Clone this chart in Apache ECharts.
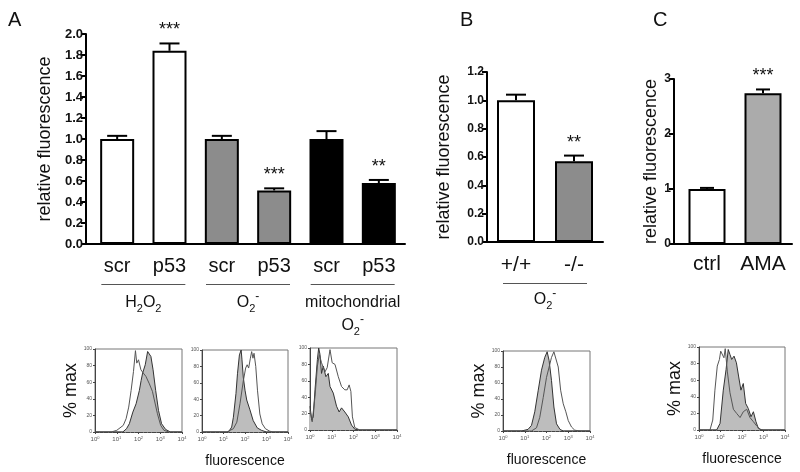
<!DOCTYPE html>
<html><head><meta charset="utf-8">
<script src="https://cdn.jsdelivr.net/npm/echarts@6/dist/echarts.min.js"></script>
<style>html,body{margin:0;padding:0;background:#fff}#c{width:800px;height:472px}</style>
</head><body><div id="c"></div>
<script>
const FONT = '"Liberation Sans", Arial, Helvetica, sans-serif';

// ---------- Panel A (bars) ----------
const aCategories = ['scr', 'p53', 'scr', 'p53', 'scr', 'p53'];
const aValues = [1.00, 1.84, 1.00, 0.51, 1.00, 0.58];
const aErrors = [0.03, 0.07, 0.03, 0.02, 0.075, 0.03];
const aSig = ['', '***', '', '***', '', '**'];
const aGroups = ['H₂O₂', 'O₂⁻', 'mitochondrial\nO₂⁻'];
const aYTicks = [0, 2, 0.2];

// ---------- Panel B (bars) ----------
const bCategories = ['+/+', '-/-'];
const bValues = [1.00, 0.57];
const bErrors = [0.04, 0.04];
const bSig = ['', '**'];
const bGroups = ['O₂⁻'];
const bYTicks = [0, 1.2, 0.2];

// ---------- Panel C (bars) ----------
const cCategories = ['ctrl', 'AMA'];
const cValues = [1.00, 2.74];
const cErrors = [0.02, 0.07];
const cSig = ['', '***'];
const cYTicks = [0, 3, 1];

// ---------- Flow histograms: [log10 fluorescence, % max] ----------
const hA1Filled = [[0,0],[1.28,0],[1.45,4],[1.58,10],[1.74,24],[1.89,34],[2.04,50],[2.12,62],[2.19,71],[2.31,81],[2.42,97],[2.49,99],[2.57,91],[2.67,75],[2.79,50],[2.92,26],[3.06,10],[3.25,3],[3.47,0],[4,0]];
const hA1Open = [[0,0],[0.75,0],[1.0,2],[1.3,8],[1.43,16],[1.55,30],[1.66,50],[1.77,73],[1.86,98],[1.92,83],[2.0,87],[2.11,75],[2.22,71],[2.34,67],[2.5,58],[2.64,49],[2.87,22],[3.02,8],[3.17,2],[3.4,0],[4,0]];
const hA2Filled = [[0,0],[1.23,0],[1.38,6],[1.46,18],[1.58,47],[1.65,71],[1.74,94],[1.82,100],[1.86,88],[1.92,67],[2.0,51],[2.08,39],[2.15,39],[2.23,27],[2.38,14],[2.57,5],[2.77,2],[3.0,0],[4,0]];
const hA2Open = [[0,0],[1.15,0],[1.46,4],[1.62,12],[1.77,35],[1.92,62],[2.03,78],[2.1,82],[2.17,78],[2.25,90],[2.31,98],[2.37,90],[2.42,96],[2.5,80],[2.58,51],[2.69,22],[2.8,10],[2.95,4],[3.15,1],[3.3,0],[4,0]];
const hA3Filled = [[0,29],[0.08,12],[0.15,16],[0.23,49],[0.34,86],[0.4,100],[0.46,92],[0.53,69],[0.61,78],[0.73,65],[0.84,69],[0.92,53],[1.07,45],[1.22,29],[1.34,22],[1.45,27],[1.6,22],[1.76,16],[1.91,6],[2.06,1],[2.29,0],[4,0]];
const hA3Open = [[0,24],[0.1,10],[0.23,41],[0.34,78],[0.43,92],[0.53,82],[0.69,71],[0.79,76],[0.92,98],[1.02,82],[1.15,80],[1.3,65],[1.45,53],[1.6,49],[1.71,49],[1.8,55],[1.88,47],[1.95,16],[2.06,3],[2.29,0],[4,0]];
const hBFilled = [[0,0],[0.85,0],[1.15,2],[1.31,7],[1.46,24],[1.62,51],[1.77,76],[1.92,92],[2.03,99],[2.12,88],[2.23,63],[2.34,30],[2.46,9],[2.62,2],[2.77,0],[4,0]];
const hBOpen = [[0,0],[1.31,0],[1.54,4],[1.69,17],[1.85,42],[2.0,67],[2.12,80],[2.23,92],[2.34,99],[2.43,100],[2.54,80],[2.65,51],[2.77,34],[2.89,24],[3.0,13],[3.15,5],[3.3,1],[3.54,0],[4,0]];
const hCFilled = [[0,0],[0.82,0],[0.98,8],[1.13,48],[1.26,73],[1.36,97],[1.44,91],[1.52,85],[1.63,89],[1.74,81],[1.84,65],[1.95,48],[2.06,56],[2.17,32],[2.29,26],[2.42,16],[2.53,22],[2.65,10],[2.76,2],[2.91,0],[4,0]];
const hCOpen = [[0,0],[0.51,0],[0.64,12],[0.74,48],[0.85,77],[0.95,85],[1.01,95],[1.1,97],[1.16,87],[1.22,98],[1.32,70],[1.44,45],[1.6,25],[1.75,20],[1.91,15],[2.06,22],[2.22,25],[2.37,15],[2.53,10],[2.68,5],[2.84,1],[3.0,0],[4,0]];
const histXTicks = [0, 4, 1];
const histYTicks = [0, 100, 20];

// ---------- helpers ----------
function richify(s) {
  return s.split('\n').map(line => line.replace(/([^₂⁻]+)|(₂)|(⁻)/g,
    (m, a, b, c) => a ? '{t|' + a + '}' : (b ? '{sb|2}' : '{sp|-}'))).join('\n');
}
const groupRich = {
  t: { fontSize: 16, lineHeight: 23, color: '#111', fontFamily: FONT },
  sb: { fontSize: 11, lineHeight: 11, verticalAlign: 'bottom', color: '#111', fontFamily: FONT },
  sp: { fontSize: 12, lineHeight: 12, verticalAlign: 'top', color: '#111', fontFamily: FONT }
};
function errRender(sig, capHalf) {
  return function (params, api) {
    const x = api.value(0), v = api.value(1), e = api.value(2);
    const base = api.coord([x, v]);
    const top = api.coord([x, v + e]);
    const ch = [
      { type: 'line', shape: { x1: base[0], y1: base[1], x2: base[0], y2: top[1] }, style: { stroke: '#000', lineWidth: 2 } },
      { type: 'line', shape: { x1: base[0] - capHalf, y1: top[1], x2: base[0] + capHalf, y2: top[1] }, style: { stroke: '#000', lineWidth: 2 } }
    ];
    const s = sig[params.dataIndex];
    if (s) ch.push({ type: 'text', style: { text: s, x: base[0], y: top[1] - 4, align: 'center', verticalAlign: 'bottom', font: '18px ' + FONT, fill: '#111' } });
    return { type: 'group', children: ch };
  };
}
function errData(vals, errs) { return vals.map((v, i) => [i, v, errs[i]]); }

const axisBlack = { lineStyle: { color: '#000', width: 2 } };
function lineOnlyX(gi) {
  return { type: 'value', gridIndex: gi, position: 'bottom', min: 0, max: 1, axisLine: axisBlack, axisTick: { show: false }, axisLabel: { show: false }, splitLine: { show: false } };
}
function hiddenY(gi, ticks) {
  return { type: 'value', gridIndex: gi, min: ticks[0], max: ticks[1], show: false, splitLine: { show: false } };
}
function barY(gi, ticks, fs, name, gap) {
  return {
    type: 'value', gridIndex: gi, position: 'left', min: ticks[0], max: ticks[1], interval: ticks[2],
    axisLine: { show: true, lineStyle: { color: '#000', width: 2 } },
    axisTick: { show: true, length: 5, lineStyle: { color: '#000', width: 2 } },
    axisLabel: { fontSize: fs, fontWeight: 'bold', color: '#111', margin: 3, fontFamily: FONT,
      formatter: v => ticks[2] < 1 ? v.toFixed(1) : String(v) },
    splitLine: { show: false },
    name: name, nameLocation: 'middle', nameGap: gap,
    nameTextStyle: { fontSize: 18, color: '#111', fontFamily: FONT }
  };
}
function catX(gi, cats, fs, margin, showLine) {
  return { type: 'category', gridIndex: gi, position: 'bottom', data: cats,
    axisLine: { show: !!showLine, lineStyle: { color: '#000', width: 2 } }, axisTick: { show: false },
    axisLabel: { fontSize: fs, color: '#111', margin: margin, interval: 0, fontFamily: FONT }, splitLine: { show: false } };
}
function underlineX(gi, cats, w, margin) {
  return { type: 'category', gridIndex: gi, position: 'bottom', data: cats, axisLine: { show: false }, axisTick: { show: false },
    axisLabel: { interval: 0, margin: margin, formatter: () => '{u| }',
      rich: { u: { width: w, height: 1, lineHeight: 1, backgroundColor: '#555' } } } };
}
function groupX(gi, cats, margin) {
  return { type: 'category', gridIndex: gi, position: 'bottom', data: cats, axisLine: { show: false }, axisTick: { show: false },
    axisLabel: { interval: 0, margin: margin, formatter: v => richify(v), rich: groupRich } };
}
function histX(gi, name) {
  return {
    type: 'value', gridIndex: gi, position: 'bottom', min: histXTicks[0], max: histXTicks[1], interval: histXTicks[2],
    axisLine: { lineStyle: { color: '#444', width: 1 } },
    axisTick: { length: 2, lineStyle: { color: '#444' } },
    minorTick: { show: true, splitNumber: 5, length: 1, lineStyle: { color: '#777' } },
    axisLabel: { margin: 4, formatter: v => '{b|10}{s|' + v + '}',
      rich: { b: { fontSize: 6, color: '#555', fontFamily: FONT }, s: { fontSize: 4, color: '#555', verticalAlign: 'top', fontFamily: FONT } } },
    splitLine: { show: false },
    name: name, nameLocation: 'middle', nameGap: 22, nameTextStyle: { fontSize: 14, color: '#111', fontFamily: FONT }
  };
}
function histY(gi, name, gap) {
  return {
    type: 'value', gridIndex: gi, position: 'left', min: histYTicks[0], max: histYTicks[1], interval: histYTicks[2],
    axisLine: { lineStyle: { color: '#444', width: 1 } },
    axisTick: { length: 2, lineStyle: { color: '#444' } },
    axisLabel: { fontSize: 5, color: '#555', margin: 3, fontFamily: FONT },
    splitLine: { show: false },
    name: name, nameLocation: 'middle', nameGap: gap, nameTextStyle: { fontSize: 18, color: '#111', fontFamily: FONT }
  };
}
function filled(xi, yi, data) {
  return { type: 'line', xAxisIndex: xi, yAxisIndex: yi, data: data, showSymbol: false, symbol: 'none',
    lineStyle: { color: '#333', width: 1 }, areaStyle: { color: '#bdbdbd', opacity: 1 }, z: 2 };
}
function open(xi, yi, data) {
  return { type: 'line', xAxisIndex: xi, yAxisIndex: yi, data: data, showSymbol: false, symbol: 'none',
    lineStyle: { color: '#555', width: 1 }, z: 3 };
}

const aColor = ['#ffffff', '#8c8c8c', '#000000'];
const histGrid = (l, t, w, h) => ({ left: l, top: t, width: w, height: h, show: true, borderColor: '#777', borderWidth: 1, backgroundColor: 'transparent' });
const gA = { left: 91, top: 34, width: 314, height: 210 };
const gB = { left: 487, top: 72, width: 116, height: 170 };
const gC = { left: 679, top: 79, width: 112, height: 165 };

const option = {
  animation: false,
  backgroundColor: '#fff',
  textStyle: { fontFamily: FONT },
  title: [
    { text: 'A', left: 3, top: 5, textStyle: { fontSize: 20, fontWeight: 'normal', color: '#111', fontFamily: FONT } },
    { text: 'B', left: 455, top: 5, textStyle: { fontSize: 20, fontWeight: 'normal', color: '#111', fontFamily: FONT } },
    { text: 'C', left: 648, top: 5, textStyle: { fontSize: 20, fontWeight: 'normal', color: '#111', fontFamily: FONT } }
  ],
  grid: [
    { left: 86, top: 34, width: 319, height: 210 },   // 0 A axis lines
    Object.assign({}, gA),                              // 1 A bars
    Object.assign({}, gA),                              // 2 A underline
    Object.assign({}, gA),                              // 3 A group labels
    Object.assign({}, gB),                              // 4 B bars
    Object.assign({}, gB),                              // 5 B underline
    Object.assign({}, gB),                              // 6 B group label
    { left: 674, top: 79, width: 118, height: 165 },  // 7 C axis lines
    Object.assign({}, gC),                              // 8 C bars
    histGrid(95, 349, 87, 83),   // 9
    histGrid(202, 350, 86, 82),  // 10
    histGrid(310, 348, 87, 82),  // 11
    histGrid(503, 351, 87, 80),  // 12
    histGrid(699, 347, 86, 83)   // 13
  ],
  xAxis: [
    lineOnlyX(0),                         // 0
    catX(1, aCategories, 20, 12, false),  // 1
    underlineX(2, aGroups, 84, 40),       // 2
    groupX(3, aGroups, 47),               // 3
    catX(4, bCategories, 21, 13, true),   // 4
    underlineX(5, bGroups, 84, 41),       // 5
    groupX(6, bGroups, 46),               // 6
    lineOnlyX(7),                         // 7
    catX(8, cCategories, 21, 10, false),  // 8
    histX(9, ''), histX(10, 'fluorescence'), histX(11, ''), histX(12, 'fluorescence'), histX(13, 'fluorescence') // 9-13
  ],
  yAxis: [
    barY(0, aYTicks, 13, 'relative fluorescence', 32),  // 0
    hiddenY(1, aYTicks),                                // 1
    hiddenY(2, aYTicks),                                // 2
    hiddenY(3, aYTicks),                                // 3
    barY(4, bYTicks, 12, 'relative fluorescence', 34),  // 4
    hiddenY(5, bYTicks),                                // 5
    hiddenY(6, bYTicks),                                // 6
    barY(7, cYTicks, 12, 'relative fluorescence', 7),   // 7
    hiddenY(8, cYTicks),                                // 8
    histY(9, '% max', 11), histY(10, '', 0), histY(11, '', 0), histY(12, '% max', 11), histY(13, '% max', 14) // 9-13
  ],
  series: [
    { type: 'bar', xAxisIndex: 1, yAxisIndex: 1, barWidth: 34,
      data: aValues.map((v, i) => ({ value: v, itemStyle: { color: aColor[Math.floor(i / 2)] } })),
      itemStyle: { borderColor: '#000', borderWidth: 2 } },
    { type: 'custom', xAxisIndex: 1, yAxisIndex: 1, data: errData(aValues, aErrors), renderItem: errRender(aSig, 10), z: 5 },
    { type: 'bar', xAxisIndex: 4, yAxisIndex: 4, barWidth: 38,
      data: bValues.map((v, i) => ({ value: v, itemStyle: { color: i === 0 ? '#ffffff' : '#8c8c8c' } })),
      itemStyle: { borderColor: '#000', borderWidth: 2 } },
    { type: 'custom', xAxisIndex: 4, yAxisIndex: 4, data: errData(bValues, bErrors), renderItem: errRender(bSig, 10), z: 5 },
    { type: 'bar', xAxisIndex: 8, yAxisIndex: 8, barWidth: 37,
      data: cValues.map((v, i) => ({ value: v, itemStyle: { color: i === 0 ? '#ffffff' : '#ababab' } })),
      itemStyle: { borderColor: '#000', borderWidth: 2 } },
    { type: 'custom', xAxisIndex: 8, yAxisIndex: 8, data: errData(cValues, cErrors), renderItem: errRender(cSig, 7), z: 5 },
    filled(9, 9, hA1Filled), open(9, 9, hA1Open),
    filled(10, 10, hA2Filled), open(10, 10, hA2Open),
    filled(11, 11, hA3Filled), open(11, 11, hA3Open),
    filled(12, 12, hBFilled), open(12, 12, hBOpen),
    filled(13, 13, hCFilled), open(13, 13, hCOpen)
  ]
};
const chart = echarts.init(document.getElementById('c'), null, { renderer: 'canvas' });
chart.setOption(option);
</script>
</body></html>
